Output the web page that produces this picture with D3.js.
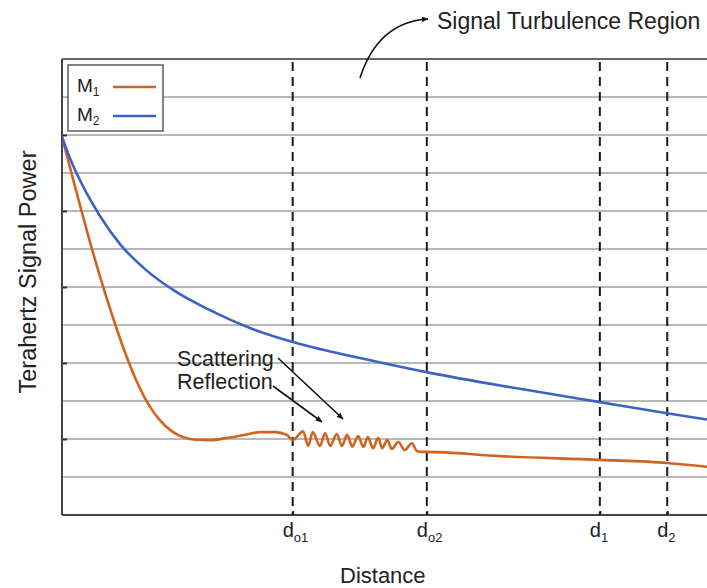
<!DOCTYPE html>
<html>
<head>
<meta charset="utf-8">
<script src="https://cdn.jsdelivr.net/npm/d3@7"></script>
<style>
  body { margin: 0; background: #fff; }
  svg { display: block; }
  text { font-family: "Liberation Sans", Arial, sans-serif; fill: #222; }
</style>
</head>
<body>
<svg id="chart" width="707" height="588"></svg>
<script>
// M1: steep decay, scattering/reflection ripple between d_o1 and d_o2, slow tail
const distanceM1 = [0, 2.0, 4.0, 5.86, 7.72, 9.57, 11.42, 13.27, 15.12, 16.98, 18.83, 20.68, 22.84,
  25.5, 28.2, 30.6, 32.9, 34.7,
  35.6, 37.2, 38.0, 38.7, 39.8, 40.6, 41.4, 42.4, 43.2, 44.0, 44.8, 45.7, 46.5, 47.2, 48.0, 48.8, 49.4, 50.2,
  50.9, 51.9, 52.9, 54.0, 54.8, 55.7, 56.3, 67.6, 83.0, 93.4, 100];
const powerM1 = [9.95, 8.65, 7.38, 6.28, 5.27, 4.35, 3.56, 2.93, 2.49, 2.20, 2.04, 1.98, 1.97,
  2.03, 2.11, 2.18, 2.18, 2.11,
  1.97, 2.20, 1.82, 2.18, 1.82, 2.15, 1.82, 2.13, 1.82, 2.11, 1.80, 2.08, 1.79, 2.05, 1.76, 2.03, 1.76, 1.97,
  1.74, 1.92, 1.71, 1.89, 1.68, 1.66, 1.66, 1.55, 1.45, 1.37, 1.26];

// M2: smooth monotone decay
const distanceM2 = [0, 1.54, 3.55, 5.86, 8.95, 12.81, 17.44, 22.84, 29.01, 36.73, 45.99, 56.79, 70.68, 83.02, 93.36, 100];
const powerM2 = [9.95, 9.26, 8.55, 7.87, 7.13, 6.47, 5.89, 5.39, 4.92, 4.50, 4.13, 3.74, 3.32, 2.97, 2.68, 2.50];

// Reference distances marked with dashed lines
const markerLabels = ["o1", "o2", "1", "2"];
const markerDistances = [35.6, 56.3, 83.0, 93.4];

const gridValues = [1, 2, 3, 4, 5, 6, 7, 8, 9, 10, 11];
const tickValues = [2, 4, 6, 8, 10];

const seriesNames = ["1", "2"];
const seriesColors = ["#d0641e", "#3d62c6"];

const svg = d3.select("#chart");
const W = 707;
const plotLeft = 62, plotTop = 59, plotBottom = 515, plotRight = 710;

const x = d3.scaleLinear().domain([0, 100]).range([plotLeft, plotRight]);
const y = d3.scaleLinear().domain([0, 12]).range([plotBottom, plotTop]);

const defs = svg.append("defs");
// clip for the plotting region
defs.append("clipPath").attr("id", "plot")
  .append("rect").attr("x", plotLeft).attr("y", plotTop)
  .attr("width", W - plotLeft).attr("height", plotBottom - plotTop);

defs.append("marker").attr("id", "head").attr("viewBox", "0 0 10 10")
  .attr("refX", 9).attr("refY", 5).attr("markerWidth", 7).attr("markerHeight", 7)
  .attr("orient", "auto").attr("markerUnits", "userSpaceOnUse")
  .append("path").attr("d", "M0,1 L10,5 L0,9 Z").attr("fill", "#111");

// gridlines
svg.append("g").selectAll("line").data(gridValues).join("line")
  .attr("x1", plotLeft).attr("x2", W)
  .attr("y1", d => y(d)).attr("y2", d => y(d))
  .attr("stroke", "#a0a0a0").attr("stroke-width", 1.6);

// left axis with short inward ticks
const yAxis = d3.axisRight(y).tickValues(tickValues).tickSize(5).tickFormat("");
const yg = svg.append("g").attr("transform", `translate(${plotLeft},0)`).call(yAxis);
yg.select(".domain").remove();
yg.selectAll(".tick line").attr("stroke", "#333").attr("stroke-width", 2);

// x axis ticks at marker distances
const xAxis = d3.axisTop(x).tickValues(markerDistances).tickSize(4).tickFormat("");
const xg = svg.append("g").attr("transform", `translate(0,${plotBottom})`).call(xAxis);
xg.select(".domain").remove();
xg.selectAll(".tick line").attr("stroke", "#222").attr("stroke-width", 2);

// frame
svg.append("line").attr("x1", plotLeft).attr("x2", W).attr("y1", plotTop).attr("y2", plotTop)
  .attr("stroke", "#666").attr("stroke-width", 2);
svg.append("line").attr("x1", plotLeft).attr("x2", W).attr("y1", plotBottom).attr("y2", plotBottom)
  .attr("stroke", "#444").attr("stroke-width", 2);
svg.append("line").attr("x1", plotLeft).attr("x2", plotLeft).attr("y1", plotTop).attr("y2", plotBottom)
  .attr("stroke", "#444").attr("stroke-width", 2);

// dashed reference lines
svg.append("g").selectAll("line").data(markerDistances).join("line")
  .attr("x1", d => x(d)).attr("x2", d => x(d))
  .attr("y1", plotTop + 3).attr("y2", plotBottom)
  .attr("stroke", "#1a1a1a").attr("stroke-width", 2).attr("stroke-dasharray", "9,6");

// curves
const line = d3.line().x(d => x(d[0])).y(d => y(d[1])).curve(d3.curveMonotoneX);
const curves = [d3.zip(distanceM1, powerM1), d3.zip(distanceM2, powerM2)];
svg.append("g").attr("clip-path", "url(#plot)").selectAll("path").data(curves).join("path")
  .attr("d", line).attr("fill", "none")
  .attr("stroke", (d, i) => seriesColors[i]).attr("stroke-width", 2.6)
  .attr("stroke-linejoin", "round");

// distance labels
const lab = svg.append("g").selectAll("text").data(markerDistances).join("text")
  .attr("x", d => x(d) - 10).attr("y", 537).attr("font-size", 20);
lab.append("tspan").text("d");
lab.append("tspan").attr("font-size", 13).attr("dy", 5).text((d, i) => markerLabels[i]);

svg.append("text").attr("x", 340).attr("y", 583).attr("font-size", 22).text("Distance");
svg.append("text").attr("transform", "translate(36,272) rotate(-90)")
  .attr("text-anchor", "middle").attr("font-size", 23.5).text("Terahertz Signal Power");

// legend
const lg = svg.append("g");
lg.append("rect").attr("x", 68).attr("y", 65).attr("width", 95).attr("height", 66)
  .attr("fill", "#fff").attr("stroke", "#666").attr("stroke-width", 1.6);
seriesNames.forEach((n, i) => {
  const ty = 92 + i * 29;
  const t = lg.append("text").attr("x", 77).attr("y", ty).attr("font-size", 19);
  t.append("tspan").text("M");
  t.append("tspan").attr("font-size", 12).attr("dy", 4).text(n);
  lg.append("line").attr("x1", 113).attr("x2", 156).attr("y1", ty - 5).attr("y2", ty - 5)
    .attr("stroke", seriesColors[i]).attr("stroke-width", 2.6);
});

// annotations
svg.append("path").attr("d", "M360,78 Q378,22 428,19").attr("fill", "none")
  .attr("stroke", "#111").attr("stroke-width", 1.6).attr("marker-end", "url(#head)");
svg.append("text").attr("x", 437).attr("y", 29).attr("font-size", 23).text("Signal Turbulence Region");

svg.append("text").attr("x", 177).attr("y", 366).attr("font-size", 21.5).text("Scattering");
svg.append("text").attr("x", 177).attr("y", 389).attr("font-size", 21.5).text("Reflection");
svg.append("line").attr("x1", 278).attr("y1", 358).attr("x2", 343).attr("y2", 419)
  .attr("stroke", "#111").attr("stroke-width", 1.6).attr("marker-end", "url(#head)");
svg.append("line").attr("x1", 273).attr("y1", 386).attr("x2", 322).attr("y2", 422)
  .attr("stroke", "#111").attr("stroke-width", 1.6).attr("marker-end", "url(#head)");
</script>
</body>
</html>
